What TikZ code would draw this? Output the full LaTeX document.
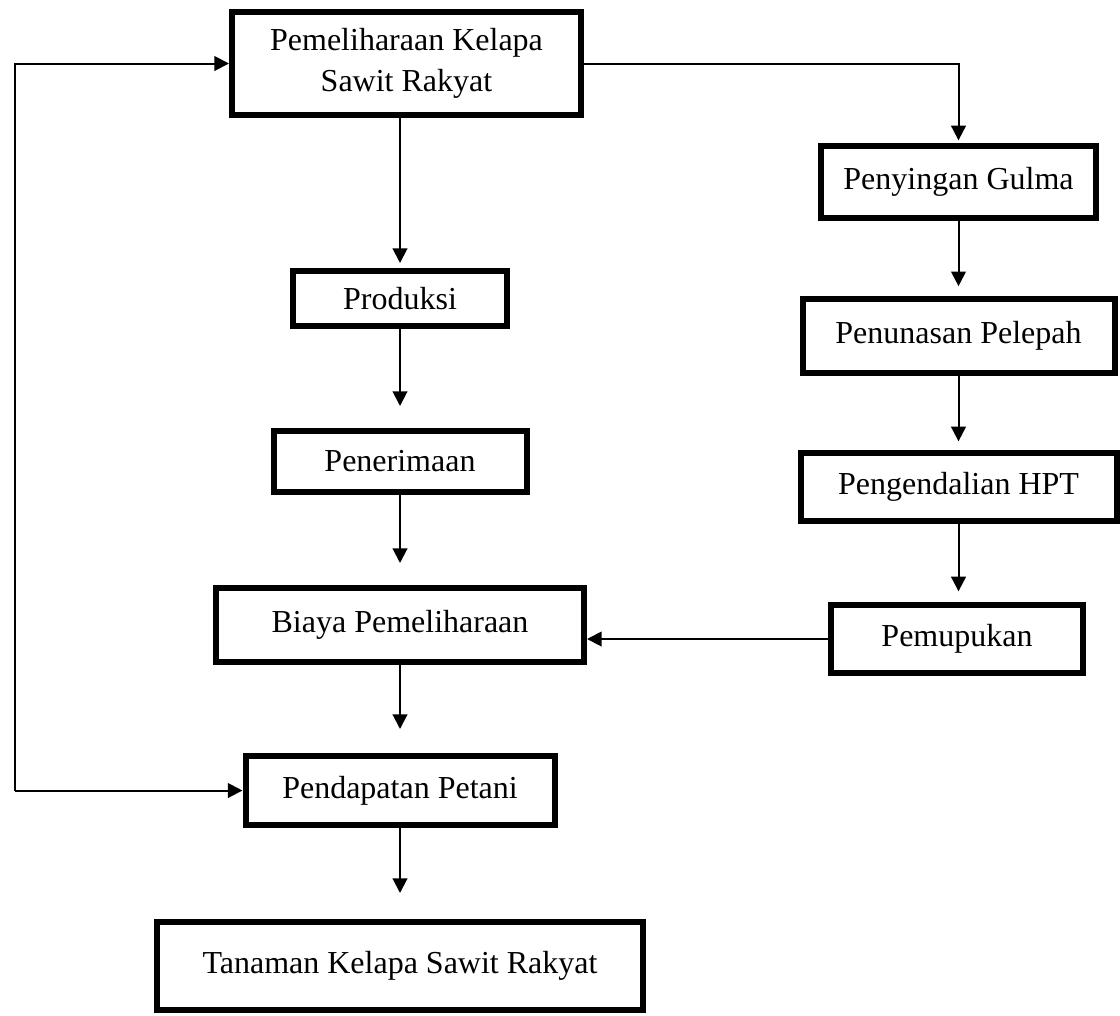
\documentclass[tikz,border=0pt]{standalone}
\usepackage{fontspec}
\setmainfont{Liberation Serif}
\usetikzlibrary{arrows.meta}

\tikzset{every picture/.style={line width=0.75pt}}
\tikzset{
  kotak/.style={draw, line width=4.5pt, align=center, inner sep=0pt,
    font=\fontsize{24}{31}\selectfont},
  panah/.style={line width=1.5pt, -{Triangle[length=11pt,width=11pt]}},
}

\begin{document}
\begin{tikzpicture}[x=0.75pt,y=0.75pt,yscale=-1,xscale=1]
\useasboundingbox (0,0) rectangle (1120,1015);

%Shape: Rectangle [left column]
\node [kotak, minimum width=261.75pt, minimum height=77.25pt] (pem) at (406.5,63.5) {Pemeliharaan Kelapa\\Sawit Rakyat};
\node [kotak, minimum width=160.5pt, minimum height=41.25pt] (produksi) at (400,298.5) {Produksi};
\node [kotak, minimum width=189.75pt, minimum height=45.75pt] (penerimaan) at (400,461.5) {Penerimaan};
\node [kotak, minimum width=276pt, minimum height=55.5pt] (biaya) at (400,625) {Biaya Pemeliharaan};
\node [kotak, minimum width=231.75pt, minimum height=51.75pt] (pendapatan) at (400,790.5) {Pendapatan Petani};
\node [kotak, minimum width=364.5pt, minimum height=66pt] (tanaman) at (400,966) {Tanaman Kelapa Sawit Rakyat};

%Shape: Rectangle [right column]
\node [kotak, minimum width=206.25pt, minimum height=54pt] (penyingan) at (958.5,182) {Penyingan Gulma};
\node [kotak, minimum width=234pt, minimum height=55.5pt] (penunasan) at (958.5,335.5) {Penunasan Pelepah};
\node [kotak, minimum width=237pt, minimum height=51pt] (pengendalian) at (958.5,487) {Pengendalian HPT};
\node [kotak, minimum width=189pt, minimum height=51pt] (pemupukan) at (957,639) {Pemupukan};

%Straight Lines [left column]
\draw [panah, shorten >=3.75pt] (pem.south -| produksi.north) -- (produksi.north);
\draw [panah, shorten >=16.5pt] (produksi.south) -- (penerimaan.north);
\draw [panah, shorten >=16.5pt] (penerimaan.south) -- (biaya.north);
\draw [panah, shorten >=18pt] (biaya.south) -- (pendapatan.north);
\draw [panah, shorten >=19.5pt] (pendapatan.south) -- (tanaman.north);

%Straight Lines [right column]
\draw [panah, shorten >=2pt] (pem.east) -| (penyingan.north);
\draw [panah, shorten >=7pt] (penyingan.south) -- (penunasan.north);
\draw [panah, shorten >=6.5pt] (penunasan.south) -- (pengendalian.north);
\draw [panah, shorten >=8pt] (pengendalian.south) -- (pengendalian.south |- pemupukan.north);
\draw [panah] (pemupukan.west) -- (pemupukan.west -| biaya.east);

%Straight Lines [feedback]
\coordinate (kiri) at (15,400);
\draw [panah] (kiri |- pendapatan.west) -- (pendapatan.west);
\draw [panah] (kiri |- pendapatan.west) |- (pem.west);

\end{tikzpicture}
\end{document}
